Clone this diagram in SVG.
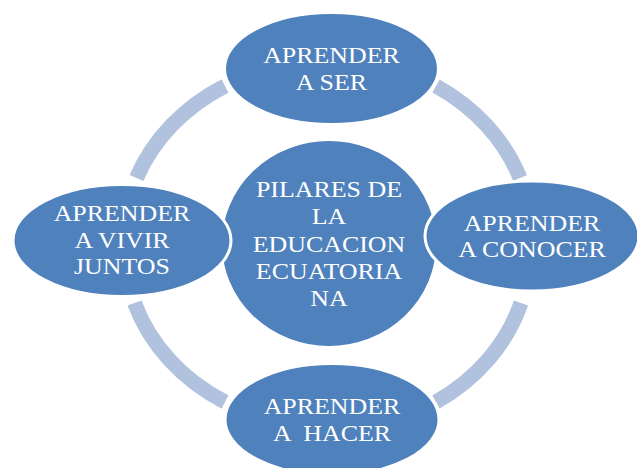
<svg xmlns="http://www.w3.org/2000/svg" width="637" height="468" viewBox="0 0 637 468">
<style>
.node{fill:#4F81BD;stroke:#FFFFFF;stroke-width:3}
.ring{fill:none;stroke:#B1C2DE;stroke-width:15;stroke-linecap:butt}
text{font-family:'Liberation Serif','DejaVu Serif',serif;font-size:24px;fill:#FFFFFF;text-anchor:middle}
</style>
<rect width="637" height="468" fill="#FFFFFF"/>
<g id="connectors">
<path class="ring" d="M 136.5 178 A 205 179 0 0 1 225 86"/>
<path class="ring" d="M 436 86 A 205 179 0 0 1 520 178"/>
<path class="ring" d="M 521 303 A 205 179 0 0 1 436 402"/>
<path class="ring" d="M 225 402 A 205 179 0 0 1 134.5 303"/>
</g>
<g id="center" transform="translate(329,243.5)">
<ellipse class="node" rx="108.5" ry="104"/>
<text font-family="Liberation Serif, serif" transform="scale(1.08,1)"><tspan x="0" y="-47">PILARES DE</tspan><tspan x="0" y="-19.5">LA</tspan><tspan x="0" y="8">EDUCACION</tspan><tspan x="0" y="35.5">ECUATORIA</tspan><tspan x="0" y="63">NA</tspan></text>
</g>
<g id="top" transform="translate(331.5,68.5)">
<ellipse class="node" rx="107" ry="56"/>
<text font-family="Liberation Serif, serif" transform="scale(1.08,1)"><tspan x="0" y="-5.5">APRENDER</tspan><tspan x="0" y="22">A SER</tspan></text>
</g>
<g id="right" transform="translate(532,236)">
<ellipse class="node" rx="107" ry="55"/>
<text font-family="Liberation Serif, serif" transform="scale(1.08,1)"><tspan x="0" y="-5">APRENDER</tspan><tspan x="0" y="21.5">A CONOCER</tspan></text>
</g>
<g id="bottom" transform="translate(332,419.5)">
<ellipse class="node" rx="107" ry="56"/>
<text font-family="Liberation Serif, serif" transform="scale(1.08,1)" xml:space="preserve"><tspan x="0" y="-5.5">APRENDER</tspan><tspan x="0" y="21.5">A  HACER</tspan></text>
</g>
<g id="left" transform="translate(122,240.5)">
<ellipse class="node" rx="109" ry="56"/>
<text font-family="Liberation Serif, serif" transform="scale(1.08,1)"><tspan x="0" y="-19.5">APRENDER</tspan><tspan x="0" y="7">A VIVIR</tspan><tspan x="0" y="34">JUNTOS</tspan></text>
</g>
</svg>
